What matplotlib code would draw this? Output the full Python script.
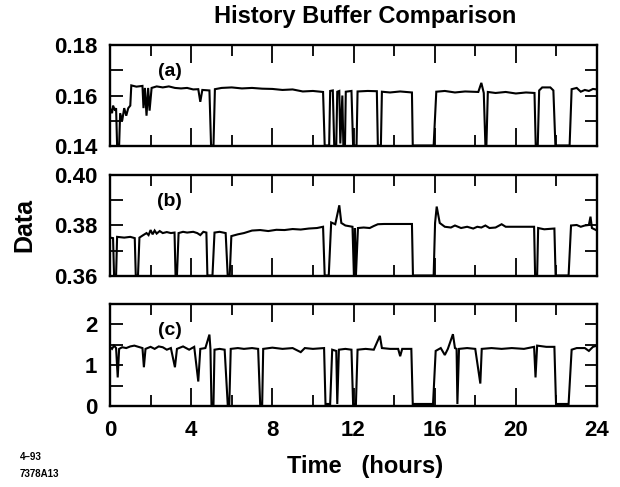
import matplotlib
matplotlib.use("Agg")
import matplotlib.pyplot as plt
from matplotlib.ticker import MultipleLocator, FixedLocator

plt.rcParams['font.family'] = ['Liberation Sans', 'DejaVu Sans']

# ---- data (time in hours, value) ----
t_a = [0.0, 0.1, 0.15, 0.25, 0.3, 0.35, 0.45, 0.5, 0.6, 0.7, 0.8, 0.9, 1.0, 1.05, 1.3, 1.6,
       1.65, 1.72, 1.8, 1.88, 1.95, 2.05, 2.3, 2.6, 2.9, 3.2, 3.5, 3.8, 4.1, 4.35, 4.45, 4.55,
       4.9, 4.98, 5.1, 5.17, 5.5, 6.0, 6.5, 7.0, 7.5, 8.0, 8.5, 9.0, 9.5, 10.0, 10.5, 10.58,
       10.8, 10.85, 10.98, 11.05, 11.15, 11.2, 11.3, 11.35, 11.45, 11.5, 11.58, 11.62, 11.9,
       11.98, 12.15, 12.2, 12.7, 13.15, 13.2, 13.35, 13.4, 13.8, 14.3, 14.88, 14.92, 15.95,
       16.08, 16.5, 17.0, 17.5, 18.15, 18.3, 18.42, 18.5, 18.55, 18.62, 19.0, 19.5, 20.0,
       20.5, 20.92, 20.98, 21.08, 21.15, 21.3, 21.7, 21.85, 21.95, 22.65, 22.75, 23.0, 23.2,
       23.4, 23.6, 23.8, 24.0]
v_a = [0.155, 0.153, 0.156, 0.154, 0.155, 0.1402, 0.1402, 0.153, 0.150, 0.155, 0.152, 0.155,
       0.156, 0.164, 0.1635, 0.1638, 0.155, 0.163, 0.152, 0.163, 0.154, 0.163, 0.1636, 0.1632,
       0.1636, 0.1630, 0.1628, 0.1630, 0.1624, 0.1625, 0.1575, 0.1622, 0.1620, 0.1402, 0.1402,
       0.1625, 0.1630, 0.1632, 0.1628, 0.1630, 0.1627, 0.1626, 0.1622, 0.1624, 0.1616, 0.1618,
       0.1614, 0.1402, 0.1402, 0.1618, 0.1620, 0.1402, 0.1402, 0.1615, 0.1618, 0.1410, 0.1600,
       0.1402, 0.1402, 0.1615, 0.1618, 0.1402, 0.1402, 0.1616, 0.1618, 0.1617, 0.1402, 0.1402,
       0.1615, 0.1612, 0.1616, 0.1612, 0.1402, 0.1402, 0.1615, 0.1618, 0.1612, 0.1616, 0.1614,
       0.1650, 0.1610, 0.1402, 0.1402, 0.1614, 0.1610, 0.1614, 0.1608, 0.1612, 0.1610, 0.1402,
       0.1402, 0.1620, 0.1632, 0.1632, 0.1620, 0.1402, 0.1402, 0.1625, 0.1630, 0.1615, 0.1622,
       0.1618, 0.1626, 0.1624]

t_b = [0.0, 0.15, 0.2, 0.3, 0.35, 0.7, 1.0, 1.22, 1.27, 1.38, 1.45, 1.6, 1.8, 1.9, 2.0, 2.1,
       2.2, 2.3, 2.45, 2.6, 2.8, 3.0, 3.18, 3.23, 3.3, 3.38, 3.6, 3.8, 4.1, 4.3, 4.45, 4.6,
       4.75, 4.8, 5.05, 5.15, 5.4, 5.7, 5.8, 5.9, 5.98, 6.3, 6.6, 7.0, 7.4, 7.8, 8.2, 8.6,
       9.0, 9.4, 9.8, 10.2, 10.5, 10.58, 10.78, 10.9, 11.1, 11.3, 11.4, 11.6, 11.95, 12.02,
       12.07, 12.12, 12.22, 12.5, 12.8, 13.0, 13.2, 13.5, 14.0, 14.5, 14.88, 14.93, 15.95,
       16.02, 16.1, 16.25, 16.5, 16.8, 17.0, 17.3, 17.6, 17.9, 18.1, 18.3, 18.5, 18.7, 19.0,
       19.3, 19.5, 19.8, 20.2, 20.5, 20.9, 20.95, 21.05, 21.1, 21.4, 21.9, 21.96, 22.6, 22.72,
       23.0, 23.2, 23.4, 23.6, 23.68, 23.75, 24.0]
v_b = [0.3752, 0.3750, 0.3602, 0.3602, 0.3755, 0.3752, 0.3755, 0.3750, 0.3602, 0.3602, 0.3752,
       0.3760, 0.3770, 0.3762, 0.3782, 0.3765, 0.3780, 0.3768, 0.3778, 0.3770, 0.3774, 0.3770,
       0.3772, 0.3602, 0.3602, 0.3770, 0.3775, 0.3772, 0.3775, 0.3770, 0.3762, 0.3775, 0.3772,
       0.3602, 0.3602, 0.3772, 0.3775, 0.3770, 0.3602, 0.3602, 0.3758, 0.3765, 0.3770, 0.3780,
       0.3782, 0.3778, 0.3783, 0.3782, 0.3786, 0.3784, 0.3788, 0.3790, 0.3795, 0.3602, 0.3602,
       0.3812, 0.3805, 0.3880, 0.3810, 0.3800, 0.3795, 0.3602, 0.3790, 0.3602, 0.3790, 0.3792,
       0.3790, 0.3798, 0.3805, 0.3806, 0.3806, 0.3806, 0.3806, 0.3602, 0.3602, 0.3810, 0.3875,
       0.3810, 0.3795, 0.3792, 0.3800, 0.3790, 0.3795, 0.3788, 0.3795, 0.3792, 0.3800, 0.3790,
       0.3792, 0.3805, 0.3795, 0.3795, 0.3795, 0.3795, 0.3795, 0.3602, 0.3602, 0.3790, 0.3785,
       0.3788, 0.3602, 0.3602, 0.3800, 0.3802, 0.3795, 0.3800, 0.3802, 0.3835, 0.3790, 0.3780]

t_c = [0.0, 0.1, 0.2, 0.3, 0.38, 0.45, 0.6, 0.8, 1.0, 1.2, 1.4, 1.6, 1.67, 1.75, 2.0, 2.2,
       2.4, 2.6, 2.8, 3.0, 3.2, 3.3, 3.6, 3.9, 4.15, 4.35, 4.45, 4.7, 4.9, 4.95, 5.0, 5.1,
       5.15, 5.4, 5.65, 5.8, 5.88, 5.95, 6.3, 6.6, 7.0, 7.3, 7.4, 7.5, 7.55, 8.0, 8.5, 9.0,
       9.4, 9.6, 10.0, 10.55, 10.62, 10.85, 10.95, 11.15, 11.2, 11.28, 11.6, 11.9, 11.98,
       12.12, 12.2, 12.6, 13.0, 13.3, 13.4, 13.8, 14.2, 14.3, 14.4, 14.85, 14.92, 15.92,
       16.05, 16.3, 16.5, 16.65, 16.9, 17.0, 17.08, 17.12, 17.2, 17.6, 18.0, 18.25, 18.32,
       18.8, 19.3, 19.8, 20.4, 20.9, 20.97, 21.05, 21.5, 21.9, 21.98, 22.6, 22.75, 23.0,
       23.4, 23.6, 23.8, 24.0]
v_c = [1.45, 1.40, 1.48, 1.42, 0.70, 1.40, 1.44, 1.42, 1.46, 1.48, 1.45, 1.42, 0.95, 1.40,
       1.45, 1.40, 1.46, 1.44, 1.38, 1.42, 0.95, 1.40, 1.46, 1.38, 1.45, 0.60, 1.40, 1.42,
       1.75, 1.40, 0.05, 0.05, 1.38, 1.40, 1.38, 0.05, 0.05, 1.40, 1.42, 1.40, 1.42, 1.40,
       0.05, 0.05, 1.40, 1.43, 1.40, 1.42, 1.32, 1.42, 1.40, 1.42, 0.05, 0.05, 1.38, 1.35,
       0.05, 1.38, 1.40, 1.38, 0.05, 0.05, 1.38, 1.40, 1.38, 1.72, 1.42, 1.40, 1.40, 1.22,
       1.40, 1.40, 0.05, 0.05, 1.35, 1.42, 1.25, 1.40, 1.76, 1.42, 1.40, 0.05, 1.40, 1.42,
       1.40, 0.55, 1.40, 1.42, 1.40, 1.42, 1.40, 1.45, 0.70, 1.48, 1.45, 1.45, 0.05, 0.05,
       1.38, 1.42, 1.42, 1.35, 1.45, 1.48]

x_ticks = [0, 4, 8, 12, 16, 20, 24]
panels = [
    dict(t=t_a, v=v_a, label='(a)', ylim=(0.14, 0.18), major=0.02, minor=0.01,
         ticks=['0.14', '0.16', '0.18']),
    dict(t=t_b, v=v_b, label='(b)', ylim=(0.36, 0.40), major=0.02, minor=0.01,
         ticks=['0.36', '0.38', '0.40']),
    dict(t=t_c, v=v_c, label='(c)', ylim=(0.0, 2.5), major=1.0, minor=0.5,
         ticks=['0', '1', '2']),
]

fig = plt.figure(figsize=(6.2, 4.87), dpi=100)
fig.patch.set_facecolor('white')

left, width = 110 / 620, (597 - 110) / 620
tops_bottoms = [(45, 146), (175, 276), (304, 406)]
H = 487

for p, (top, bot) in zip(panels, tops_bottoms):
    ax = fig.add_axes([left, 1 - bot / H, width, (bot - top) / H])
    ax.plot(p['t'], p['v'], color='black', lw=1.5, solid_joinstyle='miter')
    ax.set_xlim(0, 24)
    ax.set_ylim(*p['ylim'])
    for s in ax.spines.values():
        s.set_linewidth(1.7)
    ax.xaxis.set_major_locator(FixedLocator(x_ticks))
    ax.xaxis.set_minor_locator(MultipleLocator(2))
    ax.yaxis.set_major_locator(MultipleLocator(p['major']))
    ax.yaxis.set_minor_locator(MultipleLocator(p['minor']))
    ax.tick_params(axis='x', which='major', direction='in', top=True, bottom=True,
                   length=13, width=1.3, pad=10, labelsize=16)
    ax.tick_params(axis='x', which='minor', direction='in', top=True, bottom=True,
                   length=8, width=1.3)
    ax.tick_params(axis='y', which='both', direction='in', left=True, right=True,
                   length=9, width=1.3, pad=9, labelsize=16)
    lo, hi = p['ylim']
    yt = [lo + i * p['major'] for i in range(len(p['ticks']))]
    ax.set_yticks(yt)
    ax.set_yticklabels(p['ticks'], fontweight='bold')
    if p is panels[-1]:
        ax.set_xticklabels([str(x) for x in x_ticks], fontweight='bold')
    else:
        ax.set_xticklabels([])
    ax.text(0.123, 0.74, p['label'], transform=ax.transAxes, ha='center', va='center',
            fontsize=14, fontweight='bold')

fig.text(365 / 620, 1 - 17 / H, 'History Buffer Comparison', ha='center', va='center',
         fontsize=17, fontweight='bold')
fig.text(24 / 620, 1 - 225 / H, 'Data', ha='center', va='center', rotation=90,
         fontsize=18, fontweight='bold')
fig.text(365 / 620, 1 - 466 / H, 'Time   (hours)', ha='center', va='center', fontsize=17,
         fontweight='bold')
fig.text(20 / 620, 1 - 457 / H, '4\u201393', ha='left', va='center', fontsize=7,
         fontweight='bold')
fig.text(20 / 620, 1 - 474 / H, '7378A13', ha='left', va='center', fontsize=7,
         fontweight='bold')

fig.savefig('out.png', dpi=100, facecolor='white')
